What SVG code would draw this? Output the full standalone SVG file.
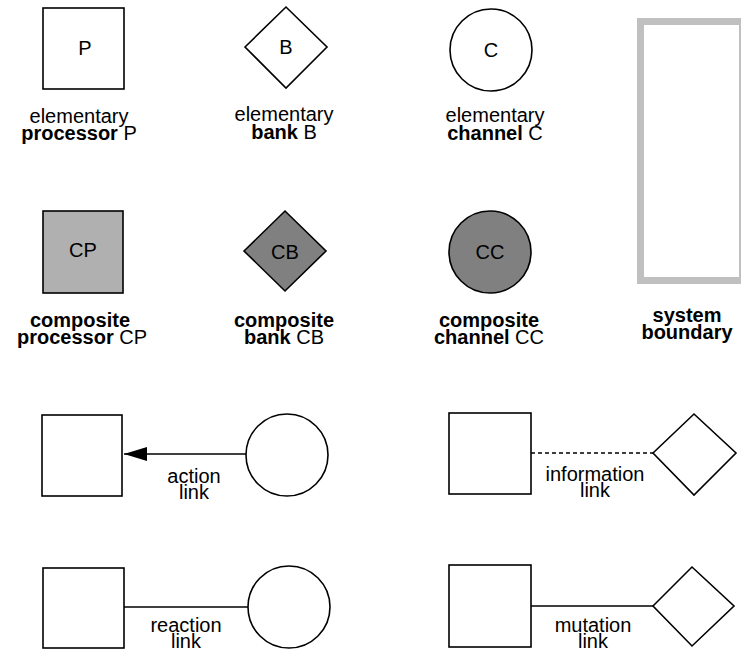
<svg xmlns="http://www.w3.org/2000/svg" width="741" height="652" viewBox="0 0 741 652">
<defs>
<style>
.sh{fill:#fff;stroke:#000;stroke-width:1.6}
.t{font-family:"Liberation Sans",Arial,sans-serif;font-size:20px;fill:#000;text-anchor:middle}
.b{font-weight:bold}
.ln{stroke:#000;stroke-width:1.6;fill:none}
</style>
<marker id="arr" markerWidth="24" markerHeight="14" refX="23" refY="7" orient="auto" markerUnits="userSpaceOnUse">
<path d="M0,0 L23,7 L0,14 Z" fill="#000"/>
</marker>
</defs>
<rect width="741" height="652" fill="#fff"/>

<g id="elementary-processor">
<rect class="sh" x="43" y="8" width="81" height="81"/>
<text class="t" x="85" y="55">P</text>
<text class="t" x="79" y="123">elementary</text>
<text class="t" x="79" y="140"><tspan class="b">processor</tspan> P</text>
</g>

<g id="elementary-bank">
<polygon class="sh" points="245,47 286,7 327,47 286,88"/>
<text class="t" x="286" y="54">B</text>
<text class="t" x="284" y="121">elementary</text>
<text class="t" x="284" y="139"><tspan class="b">bank</tspan> B</text>
</g>

<g id="elementary-channel">
<circle class="sh" cx="491" cy="50" r="41"/>
<text class="t" x="491" y="57">C</text>
<text class="t" x="495" y="122">elementary</text>
<text class="t" x="495" y="140"><tspan class="b">channel</tspan> C</text>
</g>

<g id="system-boundary">
<rect x="640.5" y="21.5" width="102" height="259" fill="none" stroke="#c0c0c0" stroke-width="7"/>
<text class="t b" x="687" y="322">system</text>
<text class="t b" x="687" y="339">boundary</text>
</g>

<g id="composite-processor">
<rect x="43" y="211" width="80" height="82" fill="#b0b0b0" stroke="#000" stroke-width="1.6"/>
<text class="t" x="83" y="257">CP</text>
<text class="t b" x="80" y="327">composite</text>
<text class="t" x="82" y="344"><tspan class="b">processor</tspan>  CP</text>
</g>

<g id="composite-bank">
<polygon points="244,251 285,211 326,251 285,291" fill="#808080" stroke="#000" stroke-width="1.6"/>
<text class="t" x="285" y="259">CB</text>
<text class="t b" x="284" y="327">composite</text>
<text class="t" x="284" y="344"><tspan class="b">bank</tspan> CB</text>
</g>

<g id="composite-channel">
<circle cx="490" cy="252" r="41" fill="#808080" stroke="#000" stroke-width="1.6"/>
<text class="t" x="490" y="259">CC</text>
<text class="t b" x="489" y="327">composite</text>
<text class="t" x="489" y="344"><tspan class="b">channel</tspan> CC</text>
</g>

<g id="action-processor"><rect class="sh" x="42" y="415" width="80" height="81"/></g>
<g id="action-channel"><circle class="sh" cx="287" cy="455" r="41"/></g>
<g id="info-processor"><rect class="sh" x="449" y="413" width="82" height="81"/></g>
<g id="info-bank"><polygon class="sh" points="653,453 694,414 736,453 694,495"/></g>
<g id="reaction-processor"><rect class="sh" x="43" y="568" width="81" height="80"/></g>
<g id="reaction-channel"><circle class="sh" cx="289" cy="607" r="41"/></g>
<g id="mutation-processor"><rect class="sh" x="449" y="565" width="82" height="82"/></g>
<g id="mutation-bank"><polygon class="sh" points="653,606 692,567 734,606 692,646"/></g>

<g id="connectors">
<line class="ln" x1="246" y1="454" x2="124" y2="454" marker-end="url(#arr)"/>
<line class="ln" x1="531" y1="453" x2="653" y2="453" stroke-dasharray="4,3"/>
<line class="ln" x1="124" y1="607" x2="248" y2="607"/>
<line class="ln" x1="531" y1="606" x2="653" y2="606"/>
<text class="t" x="194" y="483">action</text>
<text class="t" x="194" y="499">link</text>
<text class="t" x="595" y="481">information</text>
<text class="t" x="595" y="497">link</text>
<text class="t" x="186" y="632">reaction</text>
<text class="t" x="186" y="648">link</text>
<text class="t" x="593" y="632">mutation</text>
<text class="t" x="593" y="648">link</text>
</g>
</svg>
